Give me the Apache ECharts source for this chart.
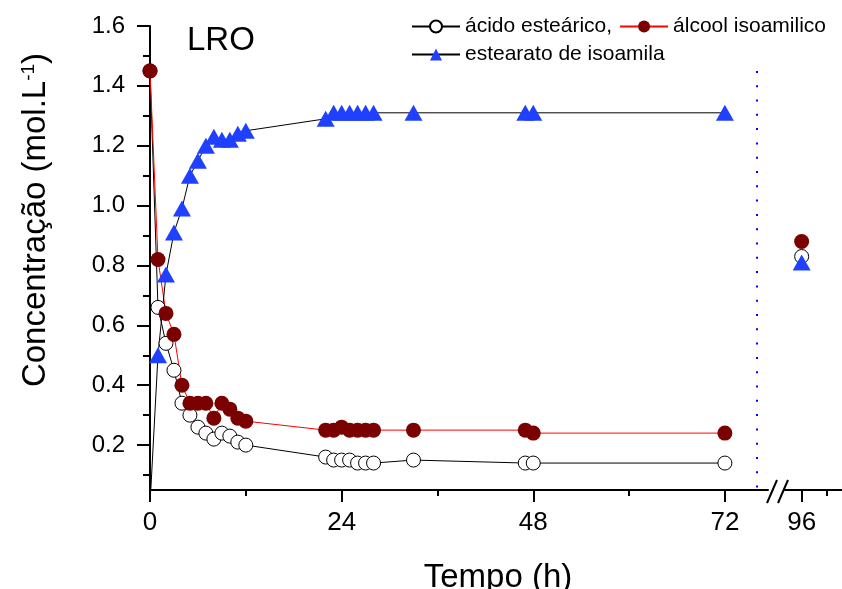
<!DOCTYPE html>
<html><head><meta charset="utf-8">
<script src="https://cdn.jsdelivr.net/npm/echarts@6/dist/echarts.min.js"></script>
<style>html,body{margin:0;padding:0;background:#fff}#c{width:842px;height:589px}</style>
</head><body><div id="c"></div>
<script>
// ---- data ----
const hours     = [0, 1, 2, 3, 4, 5, 6, 7, 8, 9, 10, 11, 12, 22, 23, 24, 25, 26, 27, 28, 33, 47, 48, 72];
const acido     = [1.45, 0.66, 0.54, 0.45, 0.34, 0.30, 0.26, 0.24, 0.22, 0.24, 0.23, 0.21, 0.20, 0.16, 0.15, 0.15, 0.15, 0.14, 0.14, 0.14, 0.15, 0.14, 0.14, 0.14];
const alcool    = [1.45, 0.82, 0.64, 0.57, 0.40, 0.34, 0.34, 0.34, 0.29, 0.34, 0.32, 0.29, 0.28, 0.25, 0.25, 0.26, 0.25, 0.25, 0.25, 0.25, 0.25, 0.25, 0.24, 0.24];
const estearato = [0, 0.50, 0.77, 0.91, 0.99, 1.10, 1.15, 1.20, 1.23, 1.22, 1.22, 1.24, 1.25, 1.29, 1.31, 1.31, 1.31, 1.31, 1.31, 1.31, 1.31, 1.31, 1.31, 1.31];
const hours2     = [96];
const acido2     = [0.83];
const alcool2    = [0.88];
const estearato2 = [0.81];
const seriesNames = ['ácido esteárico,', 'álcool isoamilico', 'estearato de isoamila'];
const yTicks  = [0.2, 0.4, 0.6, 0.8, 1.0, 1.2, 1.4, 1.6];
const yMinor  = [0.1, 0.3, 0.5, 0.7, 0.9, 1.1, 1.3, 1.5];
const xTicks1 = [0, 24, 48, 72];
const xMinor1 = [12, 36, 60];
const xTicks2 = [96];
const xMinor2 = [108];
const breakHour = 76;
const breakTop = 1.45;

// ---- chart ----
const FF = '"Liberation Sans", Arial, sans-serif';
const yMin = 0.05, yMax = 1.6;
const pair = (xs, ys) => xs.map((x, i) => [x, ys[i]]);
const axisLineStyle = {color: '#000', width: 2};

const styles = [
  {symbol: 'circle', symbolSize: 14, itemStyle: {color: '#fff', borderColor: '#000', borderWidth: 1}, lineStyle: {color: '#000', width: 1}},
  {symbol: 'circle', symbolSize: 15, itemStyle: {color: '#7b0000'}, lineStyle: {color: '#ff0000', width: 1}},
  {symbol: 'triangle', symbolSize: [18, 16], itemStyle: {color: '#2040ff'}, lineStyle: {color: '#000', width: 1}}
];
const vals1 = [acido, alcool, estearato];
const vals2 = [acido2, alcool2, estearato2];

const series = [];
for (let k = 0; k < 3; k++) {
  const s = Object.assign({
    name: seriesNames[k], type: 'line', xAxisIndex: 0, yAxisIndex: 0,
    data: pair(hours, vals1[k]), clip: true, animation: false,
    emphasis: {disabled: true}
  }, styles[k]);
  if (k === 0) {
    s.markLine = {
      silent: true, symbol: 'none', animation: false,
      label: {show: false},
      lineStyle: {color: '#0000ff', width: 2, type: [2, 12.3]},
      data: [[{coord: [breakHour, breakTop]}, {coord: [breakHour, yMin]}]]
    };
  }
  series.push(s);
}
for (let k = 0; k < 3; k++) {
  series.push(Object.assign({
    name: seriesNames[k], type: 'line', xAxisIndex: 2, yAxisIndex: 2,
    data: pair(hours2, vals2[k]), clip: false, animation: false,
    emphasis: {disabled: true}
  }, styles[k]));
}

const chart = echarts.init(document.getElementById('c'), null, {renderer: 'canvas'});
chart.setOption({
  animation: false,
  backgroundColor: '#fff',
  grid: [
    {left: 150, top: 26, width: 618, height: 464},
    {left: 785, top: 26, width: 57.2, height: 464}
  ],
  xAxis: [
    {gridIndex: 0, type: 'value', min: 0, max: 77.4, position: 'bottom',
     axisLine: {onZero: false, lineStyle: axisLineStyle},
     axisTick: {customValues: xTicks1, length: 12, lineStyle: axisLineStyle},
     axisLabel: {customValues: xTicks1, fontSize: 26, color: '#000', margin: 20, fontFamily: FF},
     splitLine: {show: false}},
    {gridIndex: 0, type: 'value', min: 0, max: 77.4, position: 'bottom',
     axisLine: {show: false, onZero: false},
     axisTick: {customValues: xMinor1, length: 6, lineStyle: axisLineStyle},
     axisLabel: {show: false}, splitLine: {show: false}},
    {gridIndex: 1, type: 'value', min: 88, max: 115.4, position: 'bottom',
     axisLine: {onZero: false, lineStyle: axisLineStyle},
     axisTick: {customValues: xTicks2, length: 12, lineStyle: axisLineStyle},
     axisLabel: {customValues: xTicks2, fontSize: 26, color: '#000', margin: 20, fontFamily: FF},
     splitLine: {show: false}},
    {gridIndex: 1, type: 'value', min: 88, max: 115.4, position: 'bottom',
     axisLine: {show: false, onZero: false},
     axisTick: {customValues: xMinor2, length: 6, lineStyle: axisLineStyle},
     axisLabel: {show: false}, splitLine: {show: false}}
  ],
  yAxis: [
    {gridIndex: 0, type: 'value', min: yMin, max: yMax, position: 'left',
     axisLine: {onZero: false, lineStyle: axisLineStyle},
     axisTick: {customValues: yTicks, length: 13, lineStyle: axisLineStyle},
     axisLabel: {customValues: yTicks, formatter: v => v.toFixed(1), fontSize: 24, color: '#000', margin: 25, fontFamily: FF},
     splitLine: {show: false}},
    {gridIndex: 0, type: 'value', min: yMin, max: yMax, position: 'left',
     axisLine: {show: false, onZero: false},
     axisTick: {customValues: yMinor, length: 7, lineStyle: axisLineStyle},
     axisLabel: {show: false}, splitLine: {show: false}},
    {gridIndex: 1, type: 'value', min: yMin, max: yMax, show: false}
  ],
  legend: {
    data: seriesNames, left: 411, top: 16, width: 420, padding: 0,
    itemWidth: 48, itemHeight: 15, itemGap: 7, selectedMode: false,
    textStyle: {fontSize: 21, lineHeight: 20, color: '#000', fontFamily: FF}
  },
  graphic: [
    {type: 'text', x: 187, y: 24, silent: true,
     style: {text: 'LRO', font: '33px ' + FF, fill: '#000', align: 'left', verticalAlign: 'top'}},
    {type: 'text', x: 498, y: 561, silent: true,
     style: {text: 'Tempo (h)', font: '33px ' + FF, fill: '#000', align: 'center', verticalAlign: 'top', textAlign: 'center', textVerticalAlign: 'top'}},
    {type: 'text', x: 36, y: 220, rotation: Math.PI / 2, silent: true,
     style: {text: '{a|Concentração (mol.L}{s|-1}{a|)}', fill: '#000', align: 'center', verticalAlign: 'middle', textAlign: 'center', textVerticalAlign: 'middle',
       rich: {a: {fontSize: 33, fontFamily: FF, fill: '#000'}, s: {fontSize: 19, fontFamily: FF, verticalAlign: 'top', fill: '#000'}}}},
    {type: 'line', silent: true, shape: {x1: 767, y1: 503, x2: 777, y2: 480}, style: {stroke: '#000', lineWidth: 2}},
    {type: 'line', silent: true, shape: {x1: 778, y1: 503, x2: 788, y2: 480}, style: {stroke: '#000', lineWidth: 2}}
  ],
  series: series
});
</script>
</body></html>
